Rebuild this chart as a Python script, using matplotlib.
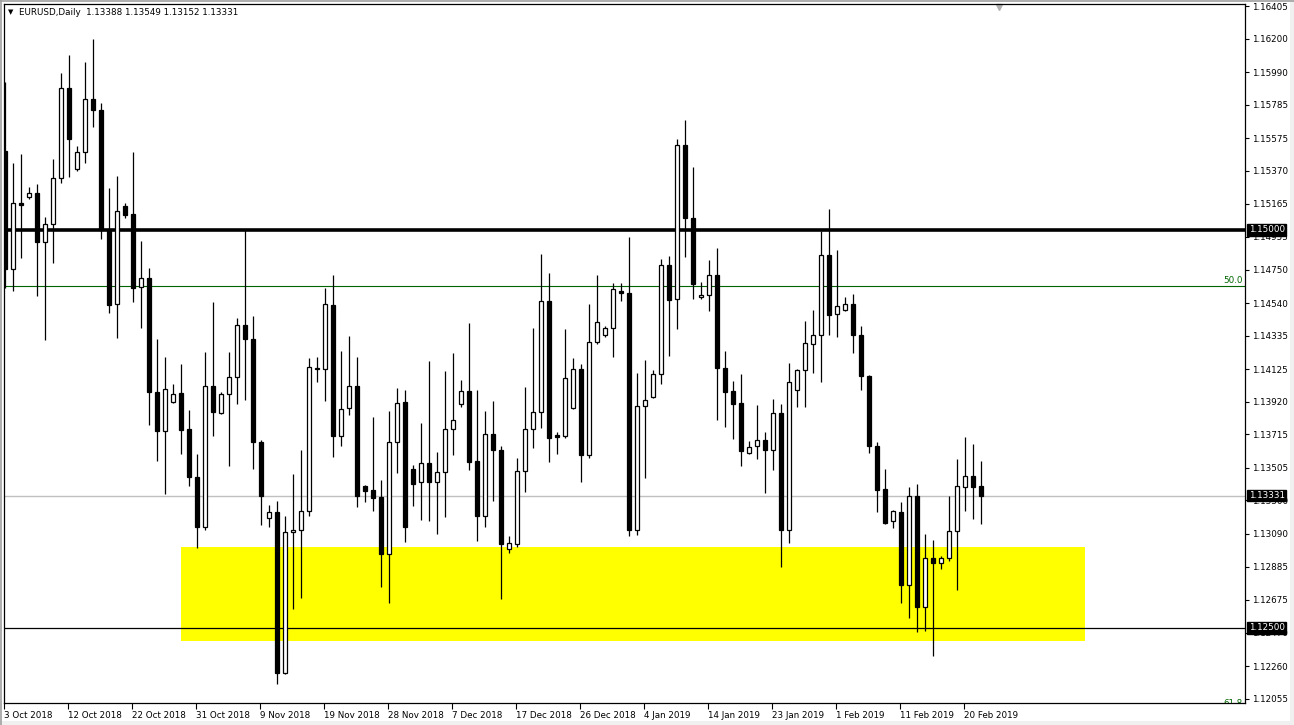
import matplotlib
matplotlib.use("Agg")
import matplotlib.pyplot as plt
import matplotlib.transforms as mtransforms
from matplotlib.lines import Line2D
from matplotlib.patches import Rectangle
import numpy as np

# EURUSD daily candles
opens = [1.15495, 1.14754, 1.15168, 1.15206, 1.15231, 1.14923, 1.15036, 1.15325, 1.15890, 1.15382,
         1.15488, 1.15821, 1.15752, 1.14999, 1.14534, 1.15149, 1.15099, 1.14641, 1.14697, 1.13981,
         1.13736, 1.13918, 1.13975, 1.13749, 1.13447, 1.13133, 1.14019, 1.13849, 1.13969, 1.14075,
         1.14402, 1.14314, 1.13667, 1.13190, 1.13228, 1.12217, 1.13102, 1.13115, 1.13234, 1.14126,
         1.14126, 1.14528, 1.13705, 1.13881, 1.14019, 1.13391, 1.13366, 1.13322, 1.12964, 1.13667,
         1.13918, 1.13498, 1.13416, 1.13535, 1.13416, 1.13479, 1.13749, 1.13906, 1.13988, 1.13548,
         1.13203, 1.13717, 1.13617, 1.12995, 1.13027, 1.13485, 1.13749, 1.13856, 1.14553, 1.13711,
         1.13705, 1.13881, 1.14126, 1.13586, 1.14295, 1.14339, 1.14383, 1.14616, 1.14603, 1.13115,
         1.13893, 1.13950, 1.14094, 1.14779, 1.14565, 1.15532, 1.15074, 1.14578, 1.14590, 1.14716,
         1.14132, 1.13988, 1.13912, 1.13598, 1.13642, 1.13680, 1.13617, 1.13849, 1.13115, 1.13994,
         1.14119, 1.14283, 1.14339, 1.14842, 1.14471, 1.14496, 1.14534, 1.14339, 1.14082, 1.13642,
         1.13372, 1.13171, 1.13228, 1.12769, 1.13328, 1.12631, 1.12939, 1.12907, 1.12939, 1.13108,
         1.13385, 1.13454, 1.13388]
highs = [1.15928, 1.15419, 1.15476, 1.15269, 1.15287, 1.15080, 1.15444, 1.15985, 1.16098, 1.15526,
         1.16054, 1.16198, 1.15796, 1.15262, 1.15338, 1.15168, 1.15488, 1.14930, 1.14760, 1.14314,
         1.14201, 1.14031, 1.14157, 1.13868, 1.13592, 1.14232, 1.14546, 1.13981, 1.14232, 1.14446,
         1.14999, 1.14459, 1.13680, 1.13272, 1.13297, 1.13203, 1.13466, 1.13617, 1.14195, 1.14201,
         1.14634, 1.14716, 1.14239, 1.14333, 1.14201, 1.13397, 1.13824, 1.13429, 1.13862, 1.14006,
         1.13994, 1.13523, 1.13787, 1.14176, 1.13604, 1.14113, 1.14226, 1.14057, 1.14415, 1.13994,
         1.13862, 1.13925, 1.13642, 1.13077, 1.13567, 1.14013, 1.14383, 1.14848, 1.14729, 1.13730,
         1.14377, 1.14195, 1.14157, 1.14534, 1.14716, 1.14396, 1.14666, 1.14666, 1.14955, 1.14101,
         1.14182, 1.14119, 1.14816, 1.14835, 1.15570, 1.15689, 1.15394, 1.14672, 1.14810, 1.14886,
         1.14239, 1.14050, 1.14094, 1.13674, 1.13900, 1.13730, 1.13937, 1.13906, 1.14163, 1.14126,
         1.14427, 1.14496, 1.14992, 1.15130, 1.14873, 1.14578, 1.14597, 1.14396, 1.14085, 1.13667,
         1.13498, 1.13240, 1.13290, 1.13385, 1.13403, 1.13089, 1.13052, 1.12951, 1.13328, 1.13560,
         1.13699, 1.13655, 1.13549]
lows = [1.14634, 1.14616, 1.14823, 1.15193, 1.14584, 1.14308, 1.14791, 1.15294, 1.15331, 1.15370,
        1.15419, 1.15645, 1.14942, 1.14477, 1.14320, 1.15074, 1.14546, 1.14383, 1.13774, 1.13548,
        1.13341, 1.13910, 1.13592, 1.13391, 1.13002, 1.13115, 1.13705, 1.13843, 1.13517, 1.13906,
        1.13931, 1.13498, 1.13146, 1.13133, 1.12147, 1.12210, 1.12618, 1.12688, 1.13203, 1.14044,
        1.13925, 1.13573, 1.13642, 1.13837, 1.13259, 1.13290, 1.13234, 1.12757, 1.12656, 1.13473,
        1.13039, 1.13265, 1.13177, 1.13171, 1.13089, 1.13196, 1.13586, 1.13887, 1.13491, 1.13046,
        1.13133, 1.13297, 1.12681, 1.12970, 1.13008, 1.13353, 1.13630, 1.13755, 1.13542, 1.13592,
        1.13692, 1.13875, 1.13416, 1.13567, 1.14283, 1.14327, 1.14201, 1.14553, 1.13077, 1.13083,
        1.13441, 1.13945, 1.14031, 1.14207, 1.14377, 1.14829, 1.14565, 1.14565, 1.14490, 1.13805,
        1.13761, 1.13686, 1.13517, 1.13592, 1.13560, 1.13347, 1.13491, 1.12882, 1.13033, 1.13887,
        1.13887, 1.14101, 1.14044, 1.14339, 1.14327, 1.14490, 1.14226, 1.13994, 1.13598, 1.13228,
        1.13155, 1.13127, 1.12656, 1.12562, 1.12474, 1.12480, 1.12323, 1.12870, 1.12920, 1.12738,
        1.13234, 1.13184, 1.13152]
closes = [1.14754, 1.15168, 1.15156, 1.15231, 1.14923, 1.15036, 1.15325, 1.15890, 1.15570, 1.15488,
          1.15821, 1.15752, 1.14999, 1.14528, 1.15118, 1.15093, 1.14634, 1.14697, 1.13981, 1.13736,
          1.14000, 1.13969, 1.13743, 1.13447, 1.13133, 1.14019, 1.13856, 1.13969, 1.14075, 1.14402,
          1.14314, 1.13667, 1.13328, 1.13228, 1.12217, 1.13102, 1.13115, 1.13234, 1.14138, 1.14128,
          1.14534, 1.13705, 1.13874, 1.14019, 1.13328, 1.13360, 1.13316, 1.12964, 1.13667, 1.13912,
          1.13133, 1.13403, 1.13535, 1.13416, 1.13479, 1.13749, 1.13805, 1.13988, 1.13542, 1.13203,
          1.13717, 1.13617, 1.13027, 1.13033, 1.13485, 1.13749, 1.13856, 1.14553, 1.13692, 1.13699,
          1.14069, 1.14126, 1.13586, 1.14295, 1.14421, 1.14383, 1.14628, 1.14603, 1.13115, 1.13893,
          1.13931, 1.14094, 1.14779, 1.14560, 1.15532, 1.15074, 1.14659, 1.14590, 1.14716, 1.14132,
          1.13981, 1.13906, 1.13611, 1.13636, 1.13680, 1.13617, 1.13849, 1.13115, 1.14044, 1.14119,
          1.14289, 1.14339, 1.14842, 1.14465, 1.14521, 1.14534, 1.14339, 1.14082, 1.13642, 1.13366,
          1.13159, 1.13234, 1.12769, 1.13328, 1.12631, 1.12939, 1.12907, 1.12939, 1.13108, 1.13391,
          1.13454, 1.13385, 1.13331]

date_labels = ["3 Oct 2018", "12 Oct 2018", "22 Oct 2018", "31 Oct 2018", "9 Nov 2018",
               "19 Nov 2018", "28 Nov 2018", "7 Dec 2018", "17 Dec 2018", "26 Dec 2018",
               "4 Jan 2019", "14 Jan 2019", "23 Jan 2019", "1 Feb 2019", "11 Feb 2019",
               "20 Feb 2019"]
date_bars = [0, 8, 16, 24, 32, 40, 48, 56, 64, 72, 80, 88, 96, 104, 112, 120]

price_labels = ["1.16405", "1.16200", "1.15990", "1.15785", "1.15575", "1.15370", "1.15165",
                "1.14955", "1.14750", "1.14540", "1.14335", "1.14125", "1.13920", "1.13715",
                "1.13505", "1.13300", "1.13090", "1.12885", "1.12675", "1.12470", "1.12260",
                "1.12055"]

level_round = 1.15000
level_fib50 = 1.14647
level_support = 1.12500
last_price = 1.13331
zone_top = 1.13008
zone_bottom = 1.12418
zone_start = 22.0
zone_end = 135.0

W, H = 1294, 725
fig = plt.figure(figsize=(W / 100, H / 100), dpi=100)
fig.patch.set_facecolor("white")

# terminal window frame
fig.patches.append(Rectangle((0, 0), 1, 4 / H, transform=fig.transFigure,
                             facecolor="#f0f0f0", edgecolor="none", zorder=0))
fig.patches.append(Rectangle((1 - 4 / W, 0), 4 / W, 1, transform=fig.transFigure,
                             facecolor="#f0f0f0", edgecolor="none", zorder=0))
fig.lines.append(Line2D([1 / W, 1 / W], [0, 1], transform=fig.transFigure,
                        color="#a0a0a0", lw=1.2))
fig.lines.append(Line2D([0, 1], [1 - 1 / H, 1 - 1 / H], transform=fig.transFigure,
                        color="#a0a0a0", lw=1.2))

ax = fig.add_axes([4 / W, 1 - 703 / H, (1245 - 4) / W, (703 - 4) / H])
ax.set_facecolor("white")

font = "DejaVu Sans"
fs = 6.3

o = np.array(opens)
h = np.array(highs)
l = np.array(lows)
c = np.array(closes)
x = np.arange(len(o))

# support zone
ax.fill_between([zone_start, zone_end], zone_bottom, zone_top, color="#ffff00", lw=0, zorder=1)

# horizontal levels
ax.axhline(last_price, color="#c0c0c0", lw=1.0, zorder=2)
ax.axhline(level_fib50, color="#006400", lw=0.8, zorder=2)
ax.axhline(level_support, color="black", lw=0.9, zorder=2)
ax.axhline(level_round, color="black", lw=2.6, zorder=2)

# candles
ax.vlines(x, l, h, color="black", lw=0.9, zorder=3)
up = c > o
body_lo = np.minimum(o, c)
body_hi = np.maximum(o, c)
height = np.maximum(body_hi - body_lo, 0.00003)
ax.bar(x[up], height[up], bottom=body_lo[up], width=0.6, facecolor="white",
       edgecolor="black", linewidth=0.9, zorder=4)
ax.bar(x[~up], height[~up], bottom=body_lo[~up], width=0.6, facecolor="black",
       edgecolor="black", linewidth=0.9, zorder=4)

ax.set_xlim(-0.125, 155)
ax.set_ylim(1.12028, 1.16418)

# axes look
for s in ax.spines.values():
    s.set_color("black")
    s.set_linewidth(0.9)

ax.yaxis.tick_right()
ax.set_yticks([float(p) for p in price_labels])
ax.set_yticklabels(price_labels, fontsize=fs, family=font)
ax.tick_params(axis="y", direction="out", length=3, width=0.8, pad=2, colors="black")

ax.set_xticks([b - 0.125 for b in date_bars])
ax.set_xticklabels(date_labels, fontsize=fs, family=font, ha="left")
ax.tick_params(axis="x", direction="out", length=4, width=0.8, pad=2, colors="black")

# price boxes on the right axis
blend = mtransforms.blended_transform_factory(ax.transAxes, ax.transData)
for p, txt in [(level_round, "1.15000"), (last_price, "1.13331"), (level_support, "1.12500")]:
    ax.text(1.003, p, txt, transform=blend, fontsize=fs, family=font, color="white",
            va="center", ha="left", zorder=10, clip_on=False,
            bbox=dict(facecolor="black", edgecolor="black", pad=1.0))

ax.text(0.998, level_fib50 + 0.00008, "50.0", transform=blend, fontsize=fs, family=font,
        color="#006400", ha="right", va="bottom")
# the 61.8 label sits on the bottom edge and is cut by it, as in the terminal
ax.text(0.998, 1.12028, "61.8", transform=blend, fontsize=fs, family=font,
        color="#006400", ha="right", va="center", clip_on=True)

# header
ax.text(0.003, 0.988, "\u25bc", transform=ax.transAxes, fontsize=5, family=font,
        color="black", va="center", ha="left")
ax.text(0.012, 0.988, "EURUSD,Daily  1.13388 1.13549 1.13152 1.13331", transform=ax.transAxes,
        fontsize=fs, family=font, color="black", va="center", ha="left")

# chart shift marker
ax.plot([0.802], [0.995], marker="v", color="#b0b0b0", markersize=5, transform=ax.transAxes,
        clip_on=False)

fig.savefig("out.png", dpi=100, facecolor="white")
